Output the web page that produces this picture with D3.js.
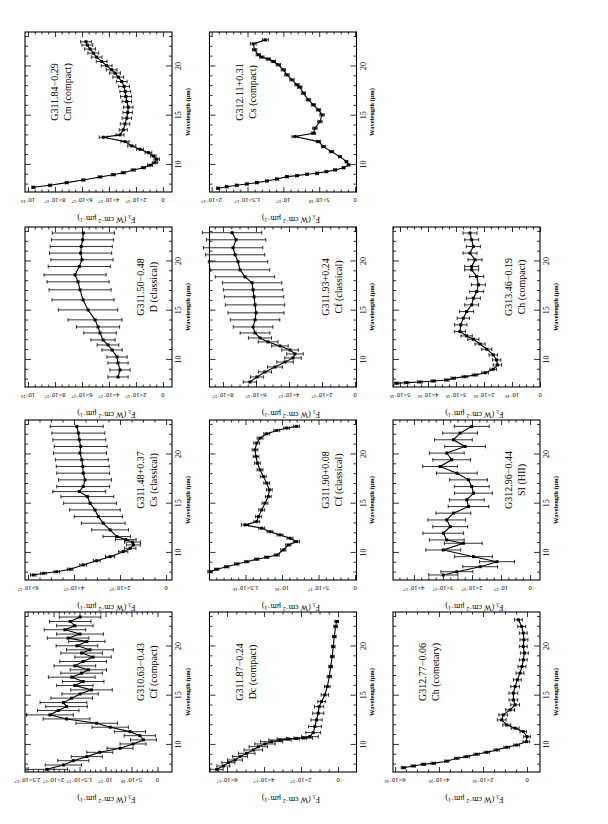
<!DOCTYPE html>
<html><head><meta charset="utf-8">
<script src="https://cdn.jsdelivr.net/npm/d3@7"></script>
<style>body{margin:0;background:#fff}</style>
</head><body>
<svg id="c" width="608" height="824"></svg>
<script>
// ---------------- DATA (flux in units of 1e-17 W cm^-2 um^-1) ----------------
const FLUX_UNIT = 1e-17;
const sourceNames = ["G310.63−0.43","G311.48+0.37","G311.50−0.48","G311.84−0.29",
                     "G311.87−0.24","G311.90+0.08","G311.93+0.24","G312.11+0.31",
                     "G312.77−0.06","G312.96−0.44","G313.46−0.19"];
const sourceTypes = ["Cf (compact)","Cs (classical)","D (classical)","Cm (compact)",
                     "Dc (compact)","Cf (classical)","Cf (classical)","Cs (compact)",
                     "Ch (cometary)","SI (HII)","Ch (compact)"];
const waveTicks = [10, 15, 20];
const waveMinorTicks = [8,9,11,12,13,14,16,17,18,19,21,22,23];

const wl_G31063 = [7.52,7.96,8.4,8.81,9.25,9.66,10.1,10.51,10.94,11.35,11.8,12.2,12.64,13.05,13.49,13.89,14.3,14.75,15.18,15.59,16.03,16.44,16.88,17.29,17.63,18.03,18.47,18.92,19.33,19.66,20.07,20.51,20.85,21.26,21.7,22.1,22.54,22.99];
const fl_G31063 = [2.13,1.81,1.62,1.36,1.11,0.72,0.47,0.27,0.34,0.53,0.91,1.17,1.75,2.07,1.91,1.75,1.81,1.65,1.49,1.27,1.59,1.43,1.65,1.46,1.33,1.59,1.43,1.24,1.46,1.30,1.55,1.36,1.72,1.49,1.78,1.59,1.68,1.49];
const er_G31063 = [0.4,0.35,0.3,0.3,0.25,0.25,0.25,0.25,0.3,0.3,0.35,0.4,0.45,0.45,0.4,0.4,0.45,0.4,0.35,0.4,0.35,0.4,0.45,0.4,0.35,0.4,0.45,0.35,0.4,0.45,0.4,0.35,0.4,0.45,0.4,0.35,0.4,0.4];
const ticks_G31063 = [0,5e-18,1e-17,1.5e-17,2e-17,2.5e-17];

const wl_G31148 = [7.76,7.93,8.09,8.34,8.78,9.21,9.62,10.13,10.47,10.81,11.1,11.35,11.66,12.34,13.02,13.69,14.37,15.05,15.72,16.23,16.74,17.42,18.1,18.78,19.46,20.14,20.81,21.49,22.17,22.85];
const fl_G31148 = [5.77,5.33,4.75,4.17,3.60,3.01,2.43,1.86,1.56,1.42,1.45,1.75,2.14,2.43,2.73,2.94,3.09,3.30,3.42,3.77,3.60,3.52,3.60,3.62,3.66,3.74,3.71,3.77,3.81,3.88];
const er_G31148 = [0.12,0.12,0.12,0.12,0.15,0.15,0.2,0.2,0.25,0.3,0.35,0.45,0.6,0.8,0.95,1.05,1.1,1.15,1.15,1.15,1.15,1.15,1.15,1.15,1.15,1.15,1.15,1.15,1.15,1.15];
const ticks_G31148 = [0,2e-17,4e-17,6e-17];

const wl_G31150 = [8.27,8.98,9.69,10.3,11.01,11.52,12.03,12.74,13.35,14.07,15.08,16.1,17.12,17.93,18.64,19.49,20.17,20.85,21.52,22.2,22.89];
const fl_G31150 = [3.33,3.18,3.33,3.40,3.77,4.07,4.44,4.66,4.81,5.03,5.55,5.92,6.14,6.29,6.51,6.2,6.0,6.1,6.05,5.95,5.9];
const er_G31150 = [0.75,0.75,0.75,0.75,0.75,0.8,0.9,1.2,1.6,2.0,2.2,2.3,2.3,2.3,2.3,2.3,2.3,2.3,2.3,2.3,2.3];
const ticks_G31150 = [0,2e-17,4e-17,6e-17,8e-17,1e-16];

const wl_G31184 = [7.73,7.93,8.20,8.47,8.78,9.01,9.21,9.49,9.72,9.97,10.23,10.58,10.91,11.25,11.59,11.93,12.37,12.81,13.05,13.56,14.17,14.75,15.32,15.87,16.44,16.94,17.45,17.96,18.47,18.92,19.33,19.66,20.07,20.51,20.95,21.36,21.77,22.17,22.51];
const fl_G31184 = [9.60,8.37,7.13,5.90,4.66,3.68,2.94,2.20,1.45,0.96,0.59,0.46,0.71,1.08,1.70,2.31,2.81,4.42,3.18,2.94,2.81,2.68,2.61,2.57,2.68,2.74,2.79,2.88,3.05,3.31,3.55,3.80,4.17,4.54,4.91,5.16,5.40,5.60,5.70];
const er_G31184 = [0.12,0.12,0.12,0.12,0.15,0.15,0.15,0.15,0.15,0.18,0.2,0.2,0.2,0.25,0.25,0.3,0.3,0.3,0.3,0.3,0.35,0.35,0.35,0.35,0.35,0.4,0.4,0.4,0.4,0.4,0.4,0.4,0.4,0.4,0.4,0.4,0.4,0.4,0.4];
const ticks_G31184 = [0,2e-17,4e-17,6e-17,8e-17,1e-16];

const wl_G31187 = [7.52,7.86,8.2,8.47,8.81,9.15,9.49,9.82,10.1,10.33,10.5,10.61,10.66,10.7,10.84,11.25,11.86,12.54,13.22,13.89,14.4,15.08,15.93,16.94,17.96,18.98,19.99,21.01,22.03,22.54];
const fl_G31187 = [6.56,6.20,5.93,5.57,5.30,4.94,4.58,4.31,3.95,3.59,3.14,2.69,2.24,1.88,1.52,1.34,1.25,1.16,1.07,1.02,0.89,0.71,0.58,0.47,0.40,0.31,0.26,0.20,0.13,0.07];
const er_G31187 = [0.35,0.35,0.35,0.4,0.4,0.45,0.5,0.5,0.55,0.6,0.6,0.6,0.55,0.5,0.45,0.4,0.35,0.3,0.3,0.25,0.2,0.2,0.15,0.12,0.1,0.1,0.1,0.1,0.1,0.1];
const ticks_G31187 = [0,2e-17,4e-17,6e-17];

const wl_G31190 = [8.09,8.34,8.6,8.88,9.11,9.36,9.56,9.79,10.3,10.81,11.15,11.49,11.83,12.16,12.51,12.85,13.18,13.69,14.37,15.05,15.72,16.41,17.09,17.76,18.44,19.12,19.79,20.47,21.16,21.66,22.1,22.44,22.68,22.85];
const fl_G31190 = [19.86,18.94,17.57,16.20,14.83,13.46,12.09,10.72,9.82,9.14,8.0,8.90,10.27,11.64,12.78,15.07,13.46,13.24,12.78,12.33,11.88,11.74,12.09,12.56,13.01,13.38,13.56,13.70,13.46,13.01,12.09,10.72,9.36,7.99];
const er_G31190 = [0.3,0.3,0.3,0.3,0.3,0.3,0.3,0.35,0.35,0.35,0.4,0.4,0.4,0.4,0.4,0.5,0.4,0.4,0.4,0.4,0.4,0.4,0.4,0.4,0.4,0.4,0.4,0.4,0.4,0.4,0.4,0.4,0.4,0.4];
const ticks_G31190 = [0,5e-17,1e-16,1.5e-16];

const wl_G31193 = [7.76,8.27,8.78,9.28,9.79,10.2,10.61,11.01,11.42,11.83,12.23,12.74,13.35,14.07,14.78,15.59,16.41,17.12,17.83,18.44,19.15,19.97,20.68,21.39,22.2,22.92];
const fl_G31193 = [6.37,5.94,5.46,4.85,4.24,3.76,3.64,3.94,4.55,5.27,5.76,6.06,6.18,6.06,6.0,6.06,6.12,6.18,6.24,6.67,6.97,7.09,7.27,7.39,7.21,7.45];
const er_G31193 = [0.4,0.4,0.4,0.45,0.5,0.5,0.5,0.5,0.5,0.6,0.7,0.9,1.2,1.5,1.7,1.8,1.8,1.8,1.8,1.8,1.8,1.8,1.8,1.8,1.8,1.8];
const ticks_G31193 = [0,2e-17,4e-17,6e-17,8e-17];

const wl_G31211 = [7.63,7.79,7.93,8.06,8.2,8.37,8.57,8.81,8.91,9.05,9.15,9.32,9.49,9.72,10.0,10.33,10.84,11.35,11.86,12.37,12.88,13.22,13.73,14.4,15.08,15.59,16.1,16.61,17.29,17.9,18.14,18.64,19.15,19.66,20.17,20.51,20.75,20.95,21.19,21.7,22.3,22.7];
const fl_G31211 = [1.91,1.79,1.65,1.51,1.37,1.23,1.09,0.95,0.81,0.67,0.53,0.40,0.28,0.16,0.09,0.12,0.21,0.33,0.44,0.51,0.84,0.58,0.56,0.49,0.46,0.51,0.58,0.65,0.72,0.77,0.81,0.88,0.95,1.0,1.07,1.14,1.21,1.30,1.35,1.40,1.42,1.25];
const er_G31211 = [0.02,0.02,0.02,0.02,0.02,0.02,0.02,0.02,0.02,0.02,0.02,0.02,0.02,0.02,0.02,0.02,0.02,0.03,0.03,0.03,0.04,0.03,0.03,0.03,0.03,0.03,0.03,0.03,0.03,0.03,0.03,0.03,0.03,0.03,0.03,0.03,0.03,0.03,0.03,0.03,0.04,0.04];
const ticks_G31211 = [0,5e-18,1e-17,1.5e-17,2e-17];

const wl_G31277 = [7.69,7.86,8.03,8.13,8.35,8.64,8.81,9.05,9.25,9.49,9.76,9.99,10.33,10.84,11.35,11.7,12.03,12.54,13.05,13.56,14.07,14.57,15.26,15.93,16.61,17.29,17.96,18.64,19.33,20.0,20.68,21.36,22.03,22.71];
const fl_G31277 = [56.2,51.7,47.1,42.6,36.5,31.9,27.4,22.9,18.3,13.8,9.2,4.7,0.3,0.0,1.7,5.4,9.2,11.5,10.8,7.7,5.4,6.2,6.2,5.4,4.4,3.2,2.3,1.7,1.2,1.7,1.4,1.7,2.4,3.9];
const er_G31277 = [1.0,1.0,1.0,1.0,1.0,1.0,1.2,1.2,1.2,1.2,1.3,1.3,1.5,1.5,1.5,1.8,1.8,2.0,2.0,2.0,2.0,2.0,2.0,2.0,1.8,1.8,1.8,1.8,1.8,1.8,1.8,1.8,1.8,1.8];
const ticks_G31277 = [0,2e-16,4e-16,6e-16];

const wl_G31296 = [7.76,8.09,8.6,9.11,9.62,10.3,10.98,11.32,12.0,12.67,13.35,14.04,14.71,15.39,16.07,16.74,17.42,18.1,18.78,19.46,20.14,20.81,21.49,22.17,22.85];
const fl_G31296 = [2.99,2.52,1.72,1.14,1.95,2.99,2.30,2.87,2.99,2.75,2.87,2.64,2.12,2.18,1.95,2.01,2.12,2.52,3.10,2.70,2.87,2.24,2.64,2.41,2.01];
const er_G31296 = [0.5,0.55,0.6,0.6,0.65,0.6,0.65,0.6,0.7,0.6,0.65,0.6,0.7,0.6,0.65,0.6,0.65,0.7,0.6,0.65,0.6,0.7,0.65,0.6,0.6];
const ticks_G31296 = [0,1e-17,2e-17,3e-17,4e-17];

const wl_G31346 = [7.63,7.69,7.76,7.86,7.96,8.14,8.3,8.47,8.7,9.05,9.49,10.0,10.51,11.09,11.62,12.1,12.44,12.88,13.56,14.24,14.91,15.59,16.27,16.94,17.63,18.47,19.15,19.49,20.17,20.85,21.52,22.2,22.89];
const fl_G31346 = [51.2,47.6,42.9,38.1,33.3,31.0,26.8,23.2,19.6,16.7,15.2,15.5,16.7,19.0,21.4,23.8,26.2,28.6,28.3,27.4,26.2,24.4,23.8,22.6,22.0,22.6,24.4,24.4,23.2,25.0,23.8,24.4,25.0];
const er_G31346 = [0.8,0.8,0.8,0.8,0.8,0.8,1.0,1.0,1.2,1.2,1.5,1.5,1.5,1.8,1.8,2.0,2.0,2.0,2.2,2.2,2.5,2.5,2.5,2.5,2.5,2.5,2.5,2.5,2.5,2.5,2.5,2.5,2.5];
const ticks_G31346 = [0,1e-16,2e-16,3e-16,4e-16,5e-16];

// ---------------- LAYOUT (landscape page, rotated onto portrait canvas) ----------------
const PW = 160, PH = 147;
const colX = [52, 244, 437, 632];
const rowY = [25, 209.5, 393];
const waveDomain = [7.25, 23.5];
const FONT = "'Liberation Serif','DejaVu Serif',serif";

const panels = [
  {i:0, r:0, c:0, wl:wl_G31063, f:fl_G31063, e:er_G31063, ticks:ticks_G31063, minor:1e-18, dom:[-0.28,2.55], lab:"lo"},
  {i:1, r:0, c:1, wl:wl_G31148, f:fl_G31148, e:er_G31148, ticks:ticks_G31148, minor:5e-18, dom:[-0.26,6.13], lab:"lo"},
  {i:2, r:0, c:2, wl:wl_G31150, f:fl_G31150, e:er_G31150, ticks:ticks_G31150, minor:5e-18, dom:[-0.67,10.22], lab:"lo"},
  {i:3, r:0, c:3, wl:wl_G31184, f:fl_G31184, e:er_G31184, ticks:ticks_G31184, minor:5e-18, dom:[-0.67,10.22], lab:"hi"},
  {i:4, r:1, c:0, wl:wl_G31187, f:fl_G31187, e:er_G31187, ticks:ticks_G31187, minor:5e-18, dom:[-1.0,6.95], lab:"hi"},
  {i:5, r:1, c:1, wl:wl_G31190, f:fl_G31190, e:er_G31190, ticks:ticks_G31190, minor:1e-17, dom:[-0.2,19.93], lab:"lo"},
  {i:6, r:1, c:2, wl:wl_G31193, f:fl_G31193, e:er_G31193, ticks:ticks_G31193, minor:5e-18, dom:[-0.09,8.82], lab:"lo"},
  {i:7, r:1, c:3, wl:wl_G31211, f:fl_G31211, e:er_G31211, ticks:ticks_G31211, minor:1e-18, dom:[-0.02,2.03], lab:"hi"},
  {i:8, r:2, c:0, wl:wl_G31277, f:fl_G31277, e:er_G31277, ticks:ticks_G31277, minor:5e-17, dom:[-5.9,60.9], lab:"hi"},
  {i:9, r:2, c:1, wl:wl_G31296, f:fl_G31296, e:er_G31296, ticks:ticks_G31296, minor:2.5e-18, dom:[-0.34,4.72], lab:"lo"},
  {i:10,r:2, c:2, wl:wl_G31346, f:fl_G31346, e:er_G31346, ticks:ticks_G31346, minor:2.5e-17, dom:[0,52.5], lab:"lo"}
];

const svg = d3.select("#c");
const root = svg.append("g").attr("transform", "translate(0,824) rotate(-90)")
  .style("font-family", FONT);

function tickParts(v){
  if (v === 0) return null;
  const e = Math.floor(Math.log10(v) + 1e-9);
  const m = +(v / Math.pow(10, e)).toFixed(2);
  return {m: m === 1 ? "10" : m + "×10", e: "−" + (-e)};
}
function styleAxis(sel){
  sel.select(".domain").remove();
  sel.selectAll("line").attr("stroke", "#000").attr("stroke-width", 0.8);
  return sel;
}

panels.forEach(p => {
  const g = root.append("g").attr("transform", `translate(${colX[p.c]},${rowY[p.r]})`);
  const x = d3.scaleLinear().domain(waveDomain).range([0, PW]);
  const yv = d3.scaleLinear().domain(p.dom.map(d => d * FLUX_UNIT)).range([PH, 0]);

  const yMinor = d3.range(0, p.dom[1] * FLUX_UNIT, p.minor).filter(v => !p.ticks.some(t => Math.abs(t - v) < p.minor * 0.01));
  styleAxis(g.append("g").attr("transform", `translate(0,${PH})`)
    .call(d3.axisBottom(x).tickValues(waveTicks).tickSize(-6).tickSizeOuter(0).tickPadding(3.6).tickFormat(d3.format("d"))))
    .selectAll("text").attr("font-size", 8).attr("font-family", FONT).attr("fill", "#000");
  styleAxis(g.append("g").attr("transform", `translate(0,${PH})`)
    .call(d3.axisBottom(x).tickValues(waveMinorTicks).tickSize(-3).tickSizeOuter(0).tickFormat("")));
  styleAxis(g.append("g").call(d3.axisTop(x).tickValues(waveTicks).tickSize(-6).tickSizeOuter(0).tickFormat("")));
  styleAxis(g.append("g").call(d3.axisTop(x).tickValues(waveMinorTicks).tickSize(-3).tickSizeOuter(0).tickFormat("")));
  styleAxis(g.append("g").call(d3.axisLeft(yv).tickValues(p.ticks).tickSize(-5).tickSizeOuter(0).tickFormat("")));
  styleAxis(g.append("g").call(d3.axisLeft(yv).tickValues(yMinor).tickSize(-2.5).tickSizeOuter(0).tickFormat("")));
  styleAxis(g.append("g").attr("transform", `translate(${PW},0)`).call(d3.axisRight(yv).tickValues(p.ticks).tickSize(-5).tickSizeOuter(0).tickFormat("")));
  styleAxis(g.append("g").attr("transform", `translate(${PW},0)`).call(d3.axisRight(yv).tickValues(yMinor).tickSize(-2.5).tickSizeOuter(0).tickFormat("")));

  g.append("rect").attr("width", PW).attr("height", PH).attr("fill", "none").attr("stroke", "#000").attr("stroke-width", 1.1);

  p.ticks.forEach(v => {
    const t = g.append("text").attr("transform", `translate(-6,${yv(v)}) rotate(-90)`)
      .attr("text-anchor", "middle").attr("font-size", 6.5).attr("fill", "#000");
    const parts = tickParts(v);
    if (!parts) { t.text("0"); return; }
    t.append("tspan").text(parts.m);
    t.append("tspan").attr("dy", "-0.45em").attr("font-size", 4.8).text(parts.e);
  });
  const yt = g.append("text").attr("transform", `translate(-24.5,${PH / 2 + 8}) rotate(-90)`)
    .attr("text-anchor", "middle").attr("font-size", 8).attr("fill", "#000");
  yt.append("tspan").text("F");
  yt.append("tspan").attr("dy", "0.3em").attr("font-size", 6).text("λ");
  yt.append("tspan").attr("dy", "-0.3em").text(" (W cm");
  yt.append("tspan").attr("dy", "-0.4em").attr("font-size", 5.5).text("−2");
  yt.append("tspan").attr("dy", "0.4em").text(" μm");
  yt.append("tspan").attr("dy", "-0.4em").attr("font-size", 5.5).text("−1");
  yt.append("tspan").attr("dy", "0.4em").text(")");
  g.append("text").attr("x", PW / 2).attr("y", PH + 17.5).attr("text-anchor", "middle")
    .attr("font-size", 6.5).attr("font-weight", "bold").attr("fill", "#000").text("Wavelength (μm)");

  const ly = p.lab === "hi" ? [33, 46] : [119, 132];
  g.append("text").attr("x", 100).attr("y", ly[0]).attr("text-anchor", "middle").attr("font-size", 10).text(sourceNames[p.i]);
  g.append("text").attr("x", 100).attr("y", ly[1]).attr("text-anchor", "middle").attr("font-size", 10).text(sourceTypes[p.i]);

  const pts = p.wl.map((w, k) => ({w, f: p.f[k] * FLUX_UNIT, e: p.e[k] * FLUX_UNIT}));
  const eb = g.append("g").attr("stroke", "#000").attr("stroke-width", 0.8);
  pts.forEach(d => {
    const cx = x(d.w), y1 = yv(d.f - d.e), y2 = yv(d.f + d.e);
    eb.append("line").attr("x1", cx).attr("x2", cx).attr("y1", y1).attr("y2", y2);
    eb.append("line").attr("x1", cx - 1.8).attr("x2", cx + 1.8).attr("y1", y1).attr("y2", y1);
    eb.append("line").attr("x1", cx - 1.8).attr("x2", cx + 1.8).attr("y1", y2).attr("y2", y2);
  });
  g.append("path").datum(pts).attr("fill", "none").attr("stroke", "#000").attr("stroke-width", 1.1)
    .attr("d", d3.line().x(d => x(d.w)).y(d => yv(d.f)));
  g.selectAll("rect.m").data(pts).join("rect").attr("class", "m")
    .attr("x", d => x(d.w) - 1.5).attr("y", d => yv(d.f) - 1.5).attr("width", 3).attr("height", 3).attr("fill", "#000");
});
</script>
</body></html>
